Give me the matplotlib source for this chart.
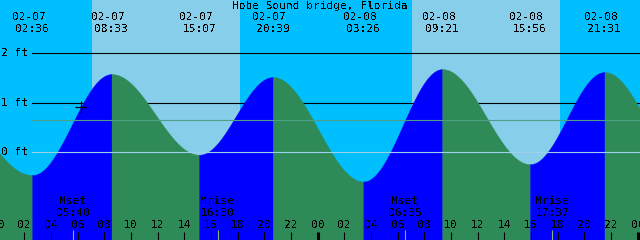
import numpy as np
import matplotlib.pyplot as plt
import matplotlib as mpl
from matplotlib.transforms import offset_copy, blended_transform_factory

mpl.rcParams['font.family'] = 'DejaVu Sans Mono'
mpl.rcParams['font.size'] = 8
mpl.rcParams['text.antialiased'] = False

title = 'Hobe Sound bridge, Florida'

# tide extremes (date, time, ft)
tide_dates = ['02-07', '02-07', '02-07', '02-07', '02-08', '02-08', '02-08', '02-08']
tide_clock = ['02:36', '08:33', '15:07', '20:39', '03:26', '09:21', '15:56', '21:31']
tide_ft = [-0.46, 1.58, -0.05, 1.52, -0.59, 1.68, -0.24, 1.62]

# extremes just outside the window (for curve ends)
edge_dates = ['02-06', '02-09']
edge_clock = ['18:42', '04:15']
edge_ft = [1.55, -0.60]

# sun / moon
sun_dates = ['02-07', '02-08']
sunrise = ['07:05', '07:05']
sunset = ['18:11', '18:11']

moon_dates = ['02-07', '02-07', '02-08', '02-08']
moon_event = ['Mset', 'Mrise', 'Mset', 'Mrise']
moon_clock = ['05:40', '16:30', '06:35', '17:37']

level_lines = [0, 1, 2]
mean_ft = 0.65
now_date, now_clock = '02-07', '06:15'

# colors
sky_night = '#00bfff'
sky_day = '#87ceeb'
water_rise = '#0000ff'
water_fall = '#2e8b57'


def hours(date, clock):
    # hours since 02-07 00:00
    day = int(date[3:]) - 7
    hh, mm = clock.split(':')
    return day * 24 + int(hh) + int(mm) / 60


ext_t = np.array([hours(edge_dates[0], edge_clock[0])]
                 + [hours(d, c) for d, c in zip(tide_dates, tide_clock)]
                 + [hours(edge_dates[1], edge_clock[1])])
ext_h = np.array([edge_ft[0]] + tide_ft + [edge_ft[1]])


def level(t):
    t = np.asarray(t, dtype=float)
    i = np.clip(np.searchsorted(ext_t, t) - 1, 0, len(ext_t) - 2)
    t1, t2 = ext_t[i], ext_t[i + 1]
    h1, h2 = ext_h[i], ext_h[i + 1]
    return (h1 + h2) / 2 + (h1 - h2) / 2 * np.cos(np.pi * (t - t1) / (t2 - t1))


x0, x1 = 0.18, 48.18
y0, y1 = -1.772, 3.077

fig = plt.figure(figsize=(6.4, 2.4), dpi=100, facecolor=sky_night)
ax = fig.add_axes([0, 0, 1, 1])
ax.set_xlim(x0, x1)
ax.set_ylim(y0, y1)
ax.axis('off')

# daylight
for d, r, s in zip(sun_dates, sunrise, sunset):
    ax.axvspan(hours(d, r), hours(d, s), color=sky_day, lw=0, zorder=0)

# 1 ft, 2 ft lines (under water)
for lv in level_lines:
    if lv != 0:
        ax.axhline(lv, xmin=32 / 640, color='k', lw=0.8, zorder=1)

# water
for i in range(len(ext_t) - 1):
    a, b = max(ext_t[i], x0 - 1), min(ext_t[i + 1], x1 + 1)
    if a >= b:
        continue
    tt = np.linspace(a, b, 300)
    c = water_rise if ext_h[i + 1] > ext_h[i] else water_fall
    ax.fill_between(tt, y0, level(tt), color=c, lw=0.3, ec=c, zorder=2)

# 0 ft and mean lines
ax.axhline(0, xmin=32 / 640, color='#9dd0ea', lw=0.8, zorder=3)
ax.axhline(mean_ft, xmin=32 / 640, color='#4f9f86', lw=0.8, zorder=3)

# level labels
ytr = blended_transform_factory(ax.transAxes, ax.transData)
for lv in level_lines:
    ax.text(0.002, lv, f'{lv} ft', transform=ytr, ha='left', va='center', zorder=4)

# title
ax.text(0.5, 1 - 6 / 240, title, transform=ax.transAxes, ha='center', va='center', zorder=4)

# tide time labels
xtr = ax.get_xaxis_transform()
dtr = offset_copy(xtr, fig=fig, x=-3.5, y=0, units='dots')
for d, c in zip(tide_dates, tide_clock):
    t = hours(d, c)
    ax.text(t, 1 - 17 / 240, d, transform=dtr, ha='center', va='center', zorder=4)
    ax.text(t, 1 - 29.5 / 240, c, transform=xtr, ha='center', va='center', zorder=4)

# moon events
for d, e, c in zip(moon_dates, moon_event, moon_clock):
    t = hours(d, c)
    ax.text(t, 1 - 201.5 / 240, e, transform=xtr, ha='center', va='center', zorder=4)
    ax.text(t, 1 - 213 / 240, c, transform=xtr, ha='center', va='center', zorder=4)
    ax.vlines(t, 0, 10 / 240, transform=xtr, color='#8fb27a', lw=0.8, zorder=4)

# hour ticks
hrs = np.arange(0, 50, 2)
for h in hrs:
    ax.text(h, 1 - 225.5 / 240, f'{h % 24:02d}', transform=xtr, ha='center', va='center', zorder=4)
    lw = 2.2 if h % 24 == 0 else 0.8
    ax.vlines(h, 0, 8 / 240, transform=xtr, color='k', lw=lw, zorder=4)

# current time marker
now_t = hours(now_date, now_clock)
ax.plot(now_t, level(now_t), marker='+', ms=8, mew=0.9, color='k', zorder=5)

plt.savefig('out.png', dpi=100, facecolor=fig.get_facecolor())
